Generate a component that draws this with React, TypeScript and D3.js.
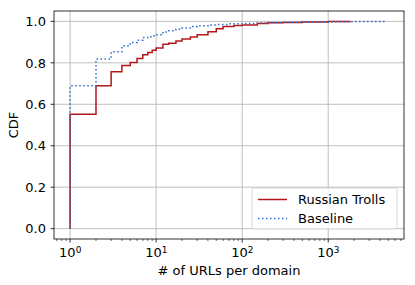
import * as d3 from "d3";

const width = 415;
const height = 285;

const margin = { left: 54, right: 11, top: 11, bottom: 46 };

// CDF steps
const trollX = [1, 2, 3, 4, 5, 6, 7, 8, 9, 10, 12, 14, 17, 20, 25, 30, 40, 50, 60, 80, 100, 150, 200, 300, 500, 1000, 1800];
const trollY = [0.552, 0.689, 0.757, 0.787, 0.802, 0.821, 0.839, 0.85, 0.861, 0.872, 0.889, 0.895, 0.905, 0.915, 0.925, 0.935, 0.95, 0.964, 0.975, 0.98, 0.983, 0.99, 0.993, 0.995, 0.997, 0.999, 1.0];

const baseX = [1, 2, 3, 4, 5, 6, 7, 8, 9, 10, 12, 14, 17, 20, 25, 30, 40, 50, 70, 100, 150, 200, 300, 500, 1000, 2000, 4800];
const baseY = [0.689, 0.818, 0.853, 0.882, 0.898, 0.909, 0.922, 0.926, 0.93, 0.935, 0.949, 0.955, 0.962, 0.968, 0.975, 0.979, 0.983, 0.985, 0.988, 0.99, 0.992, 0.994, 0.996, 0.997, 0.998, 0.999, 1.0];

const yTicks = [0, 0.2, 0.4, 0.6, 0.8, 1.0];
const xTicks = [1, 10, 100, 1000];
const seriesNames = ["Russian Trolls", "Baseline"];

const red = "#b2181b";
const blue = "#2c6bd0";
const font = "DejaVu Sans";
const fs = 13;

const x = d3
  .scaleLog()
  .domain([0.65, 7600])
  .range([margin.left, width - margin.right]);
const y = d3
  .scaleLinear()
  .domain([-0.05, 1.05])
  .range([height - margin.bottom, margin.top]);

const stepLine = d3
  .line<[number, number]>()
  .x((d) => x(d[0]))
  .y((d) => y(d[1]))
  .curve(d3.curveStepAfter);

const toPoints = (xs: number[], ys: number[]): [number, number][] => [
  [xs[0], 0],
  ...xs.map((v, i) => [v, ys[i]] as [number, number]),
];

const minorTicks: number[] = [];
for (let e = -1; e <= 3; e++) {
  for (let m = 2; m <= 9; m++) {
    const v = m * Math.pow(10, e);
    if (v >= 0.65 && v <= 7600) minorTicks.push(v);
  }
}

const App = () => {
  const x0 = margin.left;
  const x1 = width - margin.right;
  const y0 = height - margin.bottom;
  const y1 = margin.top;
  const legX = 252;
  const legY = 188;
  return (
    <svg
      width={width}
      height={height}
      style={{ position: "absolute", left: 0, top: 0, background: "white" }}
      fontFamily={font}
    >
      {/* grid */}
      {xTicks.map((t) => (
        <line key={"gx" + t} x1={x(t)} x2={x(t)} y1={y1} y2={y0} stroke="#b0b0b0" strokeWidth={0.8} />
      ))}
      {yTicks.map((t) => (
        <line key={"gy" + t} x1={x0} x2={x1} y1={y(t)} y2={y(t)} stroke="#b0b0b0" strokeWidth={0.8} />
      ))}

      {/* series */}
      <path d={stepLine(toPoints(trollX, trollY)) ?? ""} fill="none" stroke={red} strokeWidth={1.5} />
      <path
        d={stepLine(toPoints(baseX, baseY)) ?? ""}
        fill="none"
        stroke={blue}
        strokeWidth={1.5}
        strokeDasharray="1.5,2.5"
      />

      {/* spines */}
      <rect x={x0} y={y1} width={x1 - x0} height={y0 - y1} fill="none" stroke="black" strokeWidth={0.8} />

      {/* x ticks */}
      {xTicks.map((t, i) => (
        <g key={"xt" + t}>
          <line x1={x(t)} x2={x(t)} y1={y0} y2={y0 + 3.5} stroke="black" strokeWidth={0.8} />
          <text x={x(t) - 11} y={257} fontSize={fs}>
            10
            <tspan dy={-4} fontSize={9}>
              {i}
            </tspan>
          </text>
        </g>
      ))}
      {minorTicks.map((t) => (
        <line key={"mx" + t} x1={x(t)} x2={x(t)} y1={y0} y2={y0 + 2} stroke="black" strokeWidth={0.6} />
      ))}

      {/* y ticks */}
      {yTicks.map((t) => (
        <g key={"yt" + t}>
          <line x1={x0 - 3.5} x2={x0} y1={y(t)} y2={y(t)} stroke="black" strokeWidth={0.8} />
          <text x={x0 - 8} y={y(t) + 4.7} fontSize={fs} textAnchor="end">
            {t.toFixed(1)}
          </text>
        </g>
      ))}

      {/* axis labels */}
      <text x={(x0 + x1) / 2} y={274.5} fontSize={fs} textAnchor="middle">
        # of URLs per domain
      </text>
      <text transform={`translate(18,${(y0 + y1) / 2}) rotate(-90)`} fontSize={fs} textAnchor="middle">
        CDF
      </text>

      {/* legend */}
      <rect
        x={legX}
        y={legY}
        width={145}
        height={41}
        rx={2.5}
        fill="white"
        fillOpacity={0.8}
        stroke="#cccccc"
        strokeWidth={0.8}
      />
      {seriesNames.map((name, i) => (
        <g key={name}>
          <line
            x1={legX + 6}
            x2={legX + 35}
            y1={legY + 11.5 + i * 19}
            y2={legY + 11.5 + i * 19}
            stroke={i === 0 ? red : blue}
            strokeWidth={1.5}
            strokeDasharray={i === 0 ? undefined : "1.5,2.5"}
          />
          <text x={legX + 46} y={legY + 16 + i * 19} fontSize={fs}>
            {name}
          </text>
        </g>
      ))}
    </svg>
  );
};

export default App;
